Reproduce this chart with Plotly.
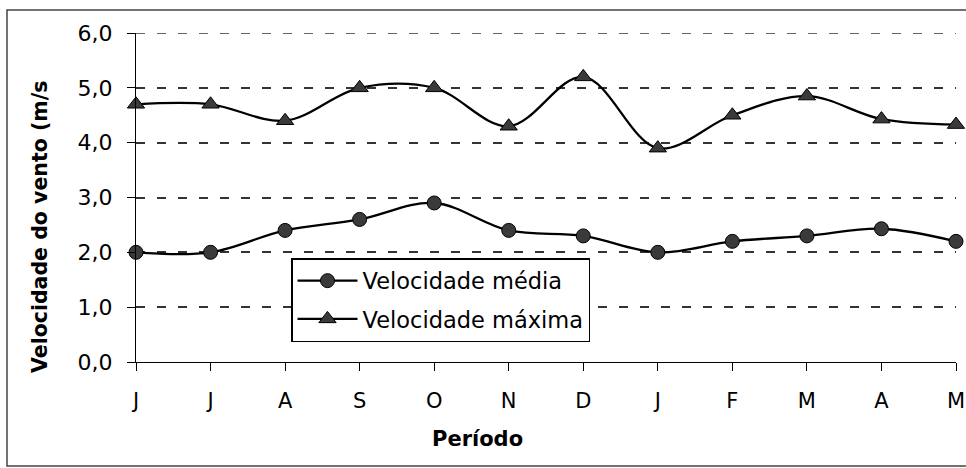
import plotly.graph_objects as go

meses = ["J", "J", "A", "S", "O", "N", "D", "J", "F", "M", "A", "M"]
vel_media = [2.0, 2.0, 2.4, 2.6, 2.9, 2.4, 2.3, 2.0, 2.2, 2.3, 2.43, 2.2]
vel_maxima = [4.7, 4.7, 4.4, 5.0, 5.0, 4.3, 5.2, 3.9, 4.5, 4.85, 4.43, 4.33]
y_ticks = [0, 1, 2, 3, 4, 5, 6]

idx = list(range(len(meses)))
FONT = "DejaVu Sans, Verdana, sans-serif"
GRID_DASH = "9px,12px"
GRID_COLOR = "#333333"

fig = go.Figure()
fig.add_trace(go.Scatter(
    x=idx, y=vel_media, name="Velocidade média", legendgroup="a",
    mode="lines+markers", cliponaxis=False,
    line=dict(color="black", width=2.3, shape="spline", smoothing=1.0),
    marker=dict(symbol="circle", size=14, color="#3a3a3a",
                line=dict(color="black", width=1)),
))
fig.add_trace(go.Scatter(
    x=idx, y=vel_maxima, name="Velocidade máxima", legendgroup="b",
    mode="lines+markers", cliponaxis=False,
    line=dict(color="black", width=2.3, shape="spline", smoothing=1.0),
    marker=dict(symbol="triangle-up", size=15, color="#3a3a3a",
                line=dict(color="black", width=1)),
))

fig.update_layout(
    width=966, height=468,
    margin=dict(l=136, r=10, t=33, b=106, autoexpand=False),
    paper_bgcolor="white", plot_bgcolor="white",
    separators=",.",
    font=dict(family=FONT, size=21, color="black"),
    showlegend=True,
    legend=dict(
        x=(291 - 136) / 820, y=(362 - 258) / 329,
        xanchor="left", yanchor="top",
        bgcolor="white", bordercolor="black", borderwidth=1.5,
        font=dict(family=FONT, size=22.5, color="black"),
        traceorder="grouped", tracegroupgap=6, itemwidth=60,
    ),
    xaxis=dict(
        range=[0, 11], tickmode="array", tickvals=idx, ticktext=meses,
        showgrid=False, zeroline=False, automargin=False,
        showline=True, linecolor="black", linewidth=1,
        ticks="outside", ticklen=8, tickcolor="black",
        tickfont=dict(size=21), ticklabelstandoff=12,
        fixedrange=True,
    ),
    yaxis=dict(
        range=[0, 6], tickmode="array", tickvals=y_ticks,
        tickformat=".1f", automargin=False,
        showgrid=True, gridcolor=GRID_COLOR, gridwidth=1.5, griddash=GRID_DASH,
        zeroline=False,
        showline=True, linecolor="black", linewidth=1,
        ticks="outside", ticklen=8, tickcolor="black",
        tickfont=dict(size=22), ticklabelstandoff=10,
        fixedrange=True,
    ),
)

# top gridline (at the edge of the plot area, not drawn by the grid)
fig.add_shape(type="line", xref="paper", yref="y",
              x0=0, x1=1, y0=y_ticks[-1], y1=y_ticks[-1],
              line=dict(color=GRID_COLOR, width=1.5, dash=GRID_DASH))

# outer chart frame
fig.add_shape(type="rect", xref="paper", yref="paper",
              x0=(7 - 136) / 820, x1=(975 - 136) / 820,
              y0=(362 - 466) / 329, y1=(362 - 10) / 329,
              line=dict(color="#444444", width=1.5), layer="below")

# axis titles
fig.add_annotation(text="<b>Velocidade do vento (m/s</b>", textangle=-90,
                   xref="paper", yref="paper",
                   x=(40 - 136) / 820, y=(362 - 227) / 329,
                   xanchor="center", yanchor="middle",
                   showarrow=False, font=dict(family=FONT, size=20.5))
fig.add_annotation(text="<b>Período</b>",
                   xref="paper", yref="paper",
                   x=(477 - 136) / 820, y=(362 - 439) / 329,
                   xanchor="center", yanchor="middle",
                   showarrow=False, font=dict(family=FONT, size=21))

fig.write_html("out.html", config={"displayModeBar": False},
               post_script="document.body.style.margin='0px';document.body.style.padding='0px';")
